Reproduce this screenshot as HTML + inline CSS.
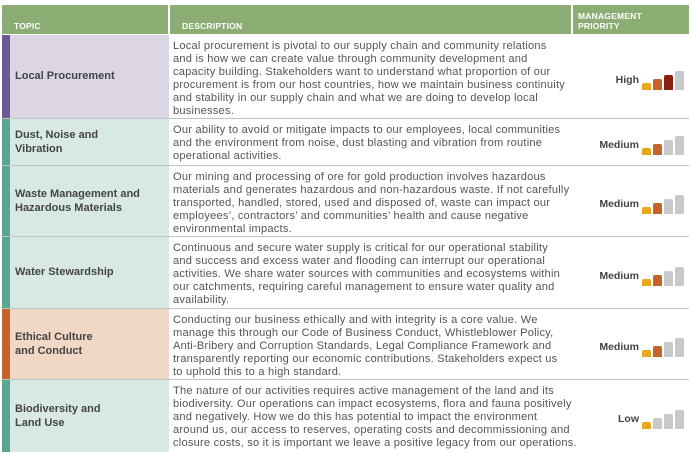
<!DOCTYPE html>
<html><head><meta charset="utf-8"><style>
*{margin:0;padding:0;box-sizing:border-box}
body{width:693px;height:452px;background:#fff;font-family:"Liberation Sans",sans-serif;position:relative;overflow:hidden;color:#4a4a4a}
.h{position:absolute;top:5px;height:29px;background:#8bad74;color:#fff;font-weight:bold;font-size:8.5px;letter-spacing:.2px}
.h span{position:absolute;left:12px;bottom:3px;line-height:10px}
.row{position:absolute;left:2px;width:687px;border-bottom:1px solid #bcc4c8}
.bar{position:absolute;left:0;top:0;bottom:0;width:8px}
.topic{position:absolute;left:8px;top:0;bottom:0;width:159px;display:flex;align-items:center;padding-left:5px;font-weight:bold;font-size:11px;line-height:14.5px;color:#444}
.desc{position:absolute;left:171px;top:5px;width:410px;font-size:11.1px;line-height:13.1px;color:#555;white-space:nowrap;letter-spacing:0.22px}
.pr{position:absolute;right:5px;top:0;bottom:0;display:flex;align-items:center;gap:3px;font-weight:bold;font-size:10.5px;color:#444}
.ic{display:flex;align-items:flex-end;gap:2px;height:20px}
.ic i{display:block;width:9px;border-radius:2px 2px 0 0;background:#c8c9cb}
</style></head><body>
<div class="h" style="left:2px;width:166px"><span>TOPIC</span></div>
<div class="h" style="left:170px;width:401px"><span>DESCRIPTION</span></div>
<div class="h" style="left:573px;width:116px"><span style="left:5px">MANAGEMENT<br>PRIORITY</span></div>

<div class="row" style="top:35px;height:84px"><div class="bar" style="background:#6a5a95"></div><div class="topic" style="background:#dbd5e4">Local Procurement</div>
<div class="desc">Local procurement is pivotal to our supply chain and community relations<br>and is how we can create value through community development and<br>capacity building. Stakeholders want to understand what proportion of our<br>procurement is from our host countries, how we maintain business continuity<br>and stability in our supply chain and what we are doing to develop local<br>businesses.</div>
<div class="pr" style="padding-top:6px">High <div class="ic"><i style="height:7px;background:#e9a81c"></i><i style="height:11px;background:#c4632a"></i><i style="height:15px;background:#8b1f0e"></i><i style="height:19px"></i></div></div></div>

<div class="row" style="top:119px;height:47px"><div class="bar" style="background:#5aa58f"></div><div class="topic" style="background:#d7e9e1">Dust, Noise and<br>Vibration</div>
<div class="desc">Our ability to avoid or mitigate impacts to our employees, local communities<br>and the environment from noise, dust blasting and vibration from routine<br>operational activities.</div>
<div class="pr" style="padding-top:6px">Medium <div class="ic"><i style="height:7px;background:#e9a81c"></i><i style="height:11px;background:#c4632a"></i><i style="height:15px"></i><i style="height:19px"></i></div></div></div>

<div class="row" style="top:166px;height:71px"><div class="bar" style="background:#5aa58f"></div><div class="topic" style="background:#d7e9e1">Waste Management and<br>Hazardous Materials</div>
<div class="desc">Our mining and processing of ore for gold production involves hazardous<br>materials and generates hazardous and non-hazardous waste. If not carefully<br>transported, handled, stored, used and disposed of, waste can impact our<br>employees’, contractors’ and communities’ health and cause negative<br>environmental impacts.</div>
<div class="pr" style="padding-top:6px">Medium <div class="ic"><i style="height:7px;background:#e9a81c"></i><i style="height:11px;background:#c4632a"></i><i style="height:15px"></i><i style="height:19px"></i></div></div></div>

<div class="row" style="top:237px;height:72px"><div class="bar" style="background:#5aa58f"></div><div class="topic" style="background:#d7e9e1">Water Stewardship</div>
<div class="desc">Continuous and secure water supply is critical for our operational stability<br>and success and excess water and flooding can interrupt our operational<br>activities. We share water sources with communities and ecosystems within<br>our catchments, requiring careful management to ensure water quality and<br>availability.</div>
<div class="pr" style="padding-top:6px">Medium <div class="ic"><i style="height:7px;background:#e9a81c"></i><i style="height:11px;background:#c4632a"></i><i style="height:15px"></i><i style="height:19px"></i></div></div></div>

<div class="row" style="top:309px;height:71px"><div class="bar" style="background:#c4642a"></div><div class="topic" style="background:#f1d7c5">Ethical Culture<br>and Conduct</div>
<div class="desc">Conducting our business ethically and with integrity is a core value. We<br>manage this through our Code of Business Conduct, Whistleblower Policy,<br>Anti-Bribery and Corruption Standards, Legal Compliance Framework and<br>transparently reporting our economic contributions. Stakeholders expect us<br>to uphold this to a high standard.</div>
<div class="pr" style="padding-top:6px">Medium <div class="ic"><i style="height:7px;background:#e9a81c"></i><i style="height:11px;background:#c4632a"></i><i style="height:15px"></i><i style="height:19px"></i></div></div></div>

<div class="row" style="top:380px;height:72px;border-bottom:none"><div class="bar" style="background:#5aa58f"></div><div class="topic" style="background:#d7e9e1">Biodiversity and<br>Land Use</div>
<div class="desc">The nature of our activities requires active management of the land and its<br>biodiversity. Our operations can impact ecosystems, flora and fauna positively<br>and negatively. How we do this has potential to impact the environment<br>around us, our access to reserves, operating costs and decommissioning and<br>closure costs, so it is important we leave a positive legacy from our operations.</div>
<div class="pr" style="padding-top:6px">Low <div class="ic"><i style="height:7px;background:#e9a81c"></i><i style="height:11px"></i><i style="height:15px"></i><i style="height:19px"></i></div></div></div>
</body></html>
